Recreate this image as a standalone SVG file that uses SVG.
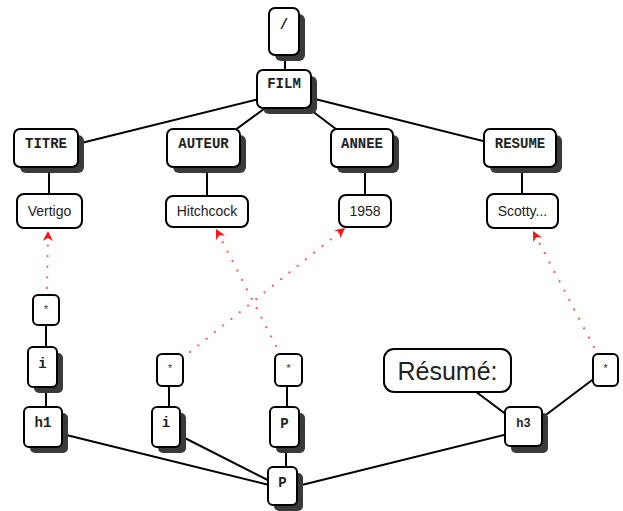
<svg xmlns="http://www.w3.org/2000/svg" width="623" height="511" viewBox="0 0 623 511">
<style>
.box{fill:#fff;stroke:#000;stroke-width:2}
.sh{fill:#3a3a3a}
.mono{font-family:"Liberation Mono","DejaVu Sans Mono",monospace;font-weight:bold;font-size:14px;text-anchor:middle;fill:#222}
.sans{font-family:"Liberation Sans",Arial,sans-serif;font-size:14px;text-anchor:middle;fill:#222}
.star{font-family:"Liberation Mono",monospace;font-size:11px;text-anchor:middle;fill:#333}
.edge{stroke:#000;stroke-width:2;fill:none}
.ref{stroke:#ff2a2a;stroke-opacity:0.75;stroke-width:2.2;stroke-dasharray:0.1 10.5;stroke-linecap:round;fill:none}
</style>
<defs>
<marker id="ah" viewBox="0 0 10 10" refX="10" refY="5" markerUnits="userSpaceOnUse" markerWidth="12" markerHeight="10" orient="auto">
<path d="M0,0 L10,5 L0,10 L3,5 z" fill="#ff1010"/>
</marker>
</defs>
<g id="connectors">
<line class="edge" x1="285" y1="50" x2="285" y2="75"/>
<line class="edge" x1="287" y1="92" x2="49" y2="151"/>
<line class="edge" x1="287" y1="92" x2="206.5" y2="151"/>
<line class="edge" x1="287" y1="92" x2="365" y2="151"/>
<line class="edge" x1="287" y1="92" x2="523" y2="151"/>
<line class="edge" x1="49" y1="160" x2="49" y2="200"/>
<line class="edge" x1="207" y1="160" x2="207" y2="200"/>
<line class="edge" x1="365" y1="160" x2="365" y2="200"/>
<line class="edge" x1="522" y1="160" x2="522" y2="200"/>
<line class="edge" x1="46" y1="320" x2="46" y2="352"/>
<line class="edge" x1="46" y1="380" x2="46" y2="412"/>
<line class="edge" x1="169" y1="380" x2="169" y2="412"/>
<line class="edge" x1="287" y1="380" x2="287" y2="412"/>
<line class="edge" x1="286" y1="440" x2="286" y2="472"/>
<line class="edge" x1="46" y1="430" x2="285.5" y2="489"/>
<line class="edge" x1="169" y1="430" x2="285.5" y2="489"/>
<line class="edge" x1="285.5" y1="489" x2="526.5" y2="429.5"/>
<line class="edge" x1="447.5" y1="370.5" x2="526.5" y2="429.5"/>
<line class="edge" x1="526.5" y1="429.5" x2="605.5" y2="370"/>
<path class="ref" d="M47,288 L48,231" marker-end="url(#ah)"/>
<path class="ref" d="M190,352 L345,228" marker-end="url(#ah)"/>
<path class="ref" d="M276,346 L216,229" marker-end="url(#ah)"/>
<path class="ref" d="M594,347 L533,231" marker-end="url(#ah)"/>
</g>
<g id="n-root"><rect class="sh" x="275" y="14" width="30" height="47" rx="6"/><rect class="box" x="269" y="8" width="30" height="47" rx="6"/><text class="mono" x="284" y="29">/</text></g>
<g id="n-film"><rect class="sh" x="263" y="76" width="54" height="38" rx="6"/><rect class="box" x="257" y="70" width="54" height="38" rx="6"/><text class="mono" x="284" y="88">FILM</text></g>
<g id="n-titre"><rect class="sh" x="20" y="135" width="64" height="38" rx="6"/><rect class="box" x="14" y="129" width="64" height="38" rx="6"/><text class="mono" x="46" y="148">TITRE</text></g>
<g id="n-auteur"><rect class="sh" x="173" y="135" width="73" height="38" rx="6"/><rect class="box" x="167" y="129" width="73" height="38" rx="6"/><text class="mono" x="203.5" y="148">AUTEUR</text></g>
<g id="n-annee"><rect class="sh" x="337" y="135" width="62" height="38" rx="6"/><rect class="box" x="331" y="129" width="62" height="38" rx="6"/><text class="mono" x="362" y="148">ANNEE</text></g>
<g id="n-resume"><rect class="sh" x="490" y="135" width="72" height="38" rx="6"/><rect class="box" x="484" y="129" width="72" height="38" rx="6"/><text class="mono" x="520" y="148">RESUME</text></g>
<g id="n-vertigo"><rect class="box" x="17" y="194" width="65" height="34" rx="7"/><text class="sans" x="49.5" y="216">Vertigo</text></g>
<g id="n-hitchcock"><rect class="box" x="166" y="196" width="82" height="31" rx="7"/><text class="sans" x="207" y="216">Hitchcock</text></g>
<g id="n-1958"><rect class="box" x="339" y="195" width="52" height="32" rx="7"/><text class="sans" x="365" y="216">1958</text></g>
<g id="n-scotty"><rect class="box" x="487" y="194" width="71" height="34" rx="7"/><text class="sans" x="522.5" y="216">Scotty...</text></g>
<g id="n-star1"><rect class="box" x="33" y="295" width="26" height="30" rx="5"/><text class="star" x="46" y="313">*</text></g>
<g id="n-i1"><rect class="sh" x="34" y="353" width="29" height="40" rx="5"/><rect class="box" x="28" y="347" width="29" height="40" rx="5"/><text class="mono" x="42.5" y="368">i</text></g>
<g id="n-h1"><rect class="sh" x="30" y="413" width="38" height="40" rx="5"/><rect class="box" x="24" y="407" width="38" height="40" rx="5"/><text class="mono" x="43" y="427">h1</text></g>
<g id="n-star2"><rect class="box" x="157" y="354" width="26" height="32" rx="5"/><text class="star" x="170" y="372">*</text></g>
<g id="n-i2"><rect class="sh" x="158" y="413" width="28" height="40" rx="5"/><rect class="box" x="152" y="407" width="28" height="40" rx="5"/><text class="mono" x="166" y="427">i</text></g>
<g id="n-star3"><rect class="box" x="275" y="354" width="27" height="32" rx="5"/><text class="star" x="288.5" y="372">*</text></g>
<g id="n-p1"><rect class="sh" x="276" y="413" width="29" height="40" rx="5"/><rect class="box" x="270" y="407" width="29" height="40" rx="5"/><text class="mono" x="284.5" y="428">P</text></g>
<g id="n-p2"><rect class="sh" x="274" y="473" width="29" height="38" rx="5"/><rect class="box" x="268" y="467" width="29" height="38" rx="5"/><text class="mono" x="282.5" y="487">P</text></g>
<g id="n-resume-label"><rect class="box" x="384" y="349" width="127" height="43" rx="10"/><text class="sans" style="font-size:25px" x="447.5" y="380">Résumé:</text></g>
<g id="n-h3"><rect class="sh" x="511" y="413" width="37" height="40" rx="5"/><rect class="box" x="505" y="407" width="37" height="39" rx="5"/><text class="mono" x="523.5" y="427" style="font-size:12px">h3</text></g>
<g id="n-star4"><rect class="box" x="593" y="354" width="25" height="32" rx="5"/><text class="star" x="605.5" y="372">*</text></g>
</svg>
